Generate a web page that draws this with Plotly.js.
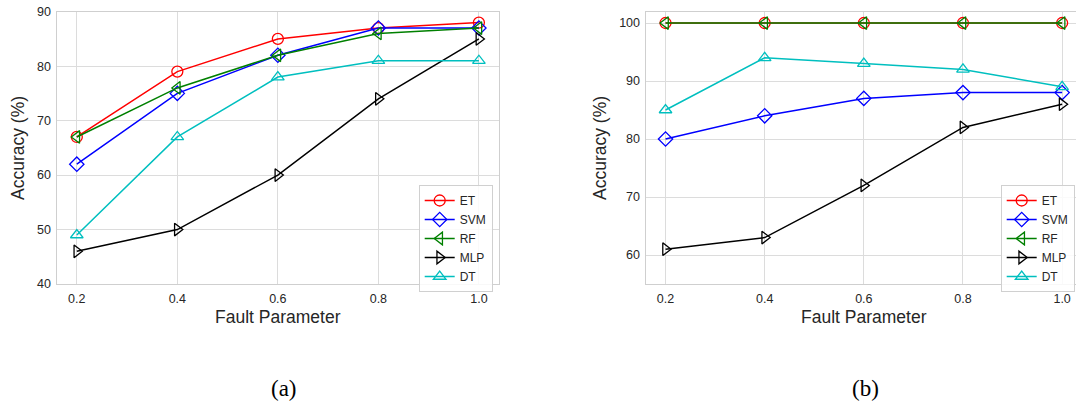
<!DOCTYPE html>
<html>
<head>
<meta charset="utf-8">
<script src="https://cdn.plot.ly/plotly-3.0.1.min.js"></script>
<style>
  html, body { margin: 0; padding: 0; background: #fff; overflow: hidden; }
  #chart { width: 1076px; height: 410px; }
</style>
</head>
<body>
<div id="chart"></div>
<script>
// Fault parameter values shared by both panels
const faultParam = [0.2, 0.4, 0.6, 0.8, 1.0];
const xTickLabels = ["0.2", "0.4", "0.6", "0.8", "1.0"];

// Panel (a) accuracies (%)
const accA_ET  = [67, 79, 85, 87, 88];
const accA_SVM = [62, 75, 82, 87, 87];
const accA_RF  = [67, 76, 82, 86, 87];
const accA_MLP = [46, 50, 60, 74, 85];
const accA_DT  = [49, 67, 78, 81, 81];

// Panel (b) accuracies (%)
const accB_ET  = [100, 100, 100, 100, 100];
const accB_SVM = [80, 84, 87, 88, 88];
const accB_RF  = [100, 100, 100, 100, 100];
const accB_MLP = [61, 63, 72, 82, 86];
const accB_DT  = [85, 94, 93, 92, 89];

const modelNames = ["ET", "SVM", "RF", "MLP", "DT"];
const modelColors = ["#ff0000", "#0000ff", "#008000", "#000000", "#00bfbf"];
const modelSymbols = ["circle-open", "diamond-open", "triangle-left-open", "triangle-right-open", "triangle-up-open"];
const markerSizes = [11, 11, 11, 11, 11];

const panelA = [accA_ET, accA_SVM, accA_RF, accA_MLP, accA_DT];
const panelB = [accB_ET, accB_SVM, accB_RF, accB_MLP, accB_DT];

const W = 1076, H = 410;
const px = v => v / W;
const py = v => 1 - v / H;

function makeTraces(series, xa, ya, legendId) {
  return series.map((vals, i) => ({
    type: "scatter",
    mode: "lines+markers",
    x: faultParam,
    y: vals,
    name: modelNames[i],
    xaxis: xa,
    yaxis: ya,
    legend: legendId,
    line: { color: modelColors[i], width: 1.5 },
    marker: { symbol: modelSymbols[i], size: markerSizes[i], color: modelColors[i], line: { width: 1.3, color: modelColors[i] } }
  }));
}

const traces = [].concat(
  makeTraces(panelA, "x", "y", "legend"),
  makeTraces(panelB, "x2", "y2", "legend2")
);

const tickFont = { family: "Liberation Sans, Arial, sans-serif", size: 12.5, color: "#262626" };
const legendFont = { family: "Liberation Sans, Arial, sans-serif", size: 12, color: "#262626" };
const titleFont = { family: "Liberation Sans, Arial, sans-serif", size: 17.5, color: "#262626" };
const captionFont = { family: "Liberation Serif, DejaVu Serif, serif", size: 23, color: "#000" };

const axisCommon = {
  showgrid: true,
  gridcolor: "#dcdcdc",
  gridwidth: 1,
  zeroline: false,
  showline: true,
  mirror: true,
  linecolor: "#cfcfcf",
  linewidth: 1.2,
  ticks: "",
  tickfont: tickFont
};

const legendCommon = {
  bgcolor: "rgba(255,255,255,0.85)",
  bordercolor: "#d0d0d0",
  borderwidth: 1,
  font: legendFont,
  yanchor: "top",
  tracegroupgap: 0,
  itemwidth: 30
};

function label(text, x, y, font, angle) {
  return { text: text, xref: "paper", yref: "paper", x: px(x), y: py(y),
           xanchor: "center", yanchor: "middle", textangle: angle || 0, showarrow: false, font: font };
}

const layout = {
  width: W,
  height: H,
  margin: { l: 0, r: 0, t: 0, b: 0 },
  paper_bgcolor: "#ffffff",
  plot_bgcolor: "#ffffff",
  showlegend: true,
  xaxis: Object.assign({}, axisCommon, {
    domain: [px(56.7), px(499)],
    range: [0.16, 1.04],
    tickvals: faultParam, ticktext: xTickLabels,
    ticklabelstandoff: 3,
    anchor: "y"
  }),
  yaxis: Object.assign({}, axisCommon, {
    domain: [py(284), py(11.7)],
    range: [40, 90],
    tickvals: [40, 50, 60, 70, 80, 90],
    ticklabelstandoff: 2,
    anchor: "x"
  }),
  xaxis2: Object.assign({}, axisCommon, {
    domain: [px(645.7), 1],
    range: [0.16, 1.028],
    tickvals: faultParam, ticktext: xTickLabels,
    ticklabelstandoff: 3,
    anchor: "y2"
  }),
  yaxis2: Object.assign({}, axisCommon, {
    domain: [py(284), py(11.7)],
    range: [55, 101.95],
    tickvals: [60, 70, 80, 90, 100],
    ticklabelstandoff: 2,
    anchor: "x2"
  }),
  legend: Object.assign({}, legendCommon, { x: px(492.7), xanchor: "right", y: py(185) }),
  legend2: Object.assign({}, legendCommon, { x: px(1000.7), xanchor: "left", y: py(185) }),
  annotations: [
    label("Accuracy (%)", 18, 148, titleFont, -90),
    label("Fault Parameter", 278, 317, titleFont),
    label("Accuracy (%)", 600, 148, titleFont, -90),
    label("Fault Parameter", 864, 317, titleFont),
    label("(a)", 284, 388, captionFont),
    label("(b)", 865, 388, captionFont)
  ]
};

Plotly.newPlot("chart", traces, layout, { displayModeBar: false, staticPlot: true });
</script>
</body>
</html>
